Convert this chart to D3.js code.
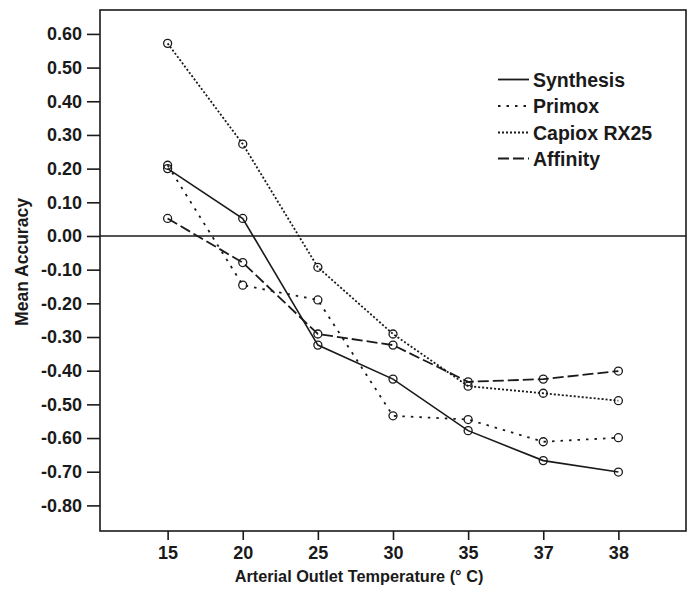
<!DOCTYPE html>
<html>
<head>
<meta charset="utf-8">
<script src="https://cdn.jsdelivr.net/npm/d3@7"></script>
<style>
  html, body { margin: 0; padding: 0; background: #fff; }
  svg { display: block; }
  text { font-family: "Liberation Sans", Arial, sans-serif; fill: #1a1a1a; }
</style>
</head>
<body>
<svg id="chart" width="690" height="589"></svg>
<script>
const categories = ["15", "20", "25", "30", "35", "37", "38"];
const seriesNames = ["Synthesis", "Primox", "Capiox RX25", "Affinity"];
const synthesis = [0.20, 0.052, -0.324, -0.425, -0.578, -0.667, -0.701];
const primox    = [0.21, -0.146, -0.19, -0.534, -0.545, -0.611, -0.599];
const capiox    = [0.572, 0.273, -0.093, -0.291, -0.446, -0.467, -0.489];
const affinity  = [0.052, -0.079, -0.291, -0.324, -0.433, -0.425, -0.401];
const yTicks = [0.6, 0.5, 0.4, 0.3, 0.2, 0.1, 0.0, -0.1, -0.2, -0.3, -0.4, -0.5, -0.6, -0.7, -0.8];

const seriesValues = [synthesis, primox, capiox, affinity];
const dashes = [null, "2.5,6", "2,2", "11,4"];

const svg = d3.select("#chart");
const L = 100, R = 686, T = 10, B = 531;
const ink = "#1a1a1a";
const FONT = "'Liberation Sans', Arial, sans-serif";

const x = d3.scalePoint().domain(categories).range([L, R]).padding(0.9);
const y = d3.scaleLinear().domain([-0.876, 0.671]).range([B, T]);

// zero line
svg.append("line")
  .attr("x1", L).attr("x2", R)
  .attr("y1", y(0)).attr("y2", y(0))
  .attr("stroke", ink).attr("stroke-width", 1.6);

// Y axis
const fmt = d => d3.format(".2f")(d).replace("\u2212", "-");
const yAxis = svg.append("g").attr("transform", `translate(${L},0)`)
  .call(d3.axisLeft(y).tickValues(yTicks).tickSize(13).tickPadding(5).tickFormat(fmt));
yAxis.select(".domain").remove();
yAxis.selectAll("line").attr("stroke", ink).attr("stroke-width", 1.6);
yAxis.selectAll("text").attr("font-size", 18).attr("font-weight", "bold")
  .attr("fill", ink).style("font-family", FONT);

// X axis
const xAxis = svg.append("g").attr("transform", `translate(0,${B})`)
  .call(d3.axisBottom(x).tickSize(9).tickPadding(6));
xAxis.select(".domain").remove();
xAxis.selectAll("line").attr("stroke", ink).attr("stroke-width", 1.6);
xAxis.selectAll("text").attr("font-size", 18).attr("font-weight", "bold")
  .attr("fill", ink).style("font-family", FONT);

// Frame
svg.append("rect")
  .attr("x", L).attr("y", T).attr("width", R - L).attr("height", B - T)
  .attr("fill", "none").attr("stroke", ink).attr("stroke-width", 1.6);

// Lines and markers
const line = d3.line().x((d, i) => x(categories[i])).y(d => y(d));
seriesValues.forEach((vals, si) => {
  svg.append("path")
    .attr("d", line(vals))
    .attr("fill", "none")
    .attr("stroke", ink)
    .attr("stroke-width", si === 0 ? 1.6 : 1.8)
    .attr("stroke-dasharray", dashes[si]);
});
seriesValues.forEach((vals) => {
  svg.append("g").selectAll("circle").data(vals).join("circle")
    .attr("cx", (d, i) => x(categories[i]))
    .attr("cy", d => y(d))
    .attr("r", 4)
    .attr("fill", "none")
    .attr("stroke", ink)
    .attr("stroke-width", 1.3);
});

// Axis titles
svg.append("text")
  .attr("x", 359).attr("y", 582)
  .attr("text-anchor", "middle")
  .attr("font-size", 16.3).attr("font-weight", "bold")
  .text("Arterial Outlet Temperature (\u00B0 C)");

svg.append("text")
  .attr("transform", `translate(28,262) rotate(-90)`)
  .attr("text-anchor", "middle")
  .attr("font-size", 17.5).attr("font-weight", "bold")
  .text("Mean Accuracy");

// Legend
const legY = [79.5, 106, 132.5, 158.5];
seriesNames.forEach((name, i) => {
  svg.append("line")
    .attr("x1", 498).attr("x2", 529)
    .attr("y1", legY[i]).attr("y2", legY[i])
    .attr("stroke", ink).attr("stroke-width", 1.8)
    .attr("stroke-dasharray", dashes[i]);
  svg.append("text")
    .attr("x", 533).attr("y", legY[i] + 7)
    .attr("font-size", 19.5).attr("font-weight", "bold")
    .text(name);
});
</script>
</body>
</html>
